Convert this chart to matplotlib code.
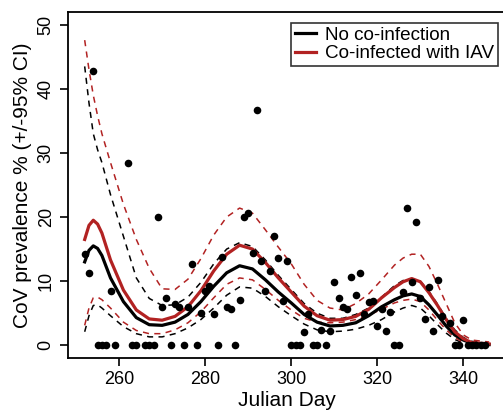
import numpy as np
import matplotlib.pyplot as plt

plt.rcParams['font.family'] = ['Liberation Sans', 'DejaVu Sans']

# observed prevalence per day
obs_day = [252, 253, 254, 258, 262, 269, 270, 271, 273, 274, 276, 277, 279, 280,
           281, 282, 284, 285, 286, 288, 289, 290, 291, 292, 293, 294, 295, 296,
           297, 298, 299, 303, 304, 307, 309, 310, 311, 312, 313, 314, 315, 316,
           317, 318, 319, 320, 321, 322, 323, 326, 327, 328, 329, 330, 331, 332,
           333, 334, 335, 337, 340]
obs_val = [14.3, 11.2, 42.8, 8.4, 28.5, 20.0, 6.0, 7.3, 6.4, 6.0, 6.0, 12.6, 5.0, 8.4,
           9.2, 4.8, 13.7, 6.0, 5.6, 7.0, 20.0, 20.6, 14.4, 36.7, 13.1, 8.4, 11.6, 17.0,
           13.6, 6.9, 13.2, 2.1, 4.8, 2.3, 2.2, 9.8, 7.3, 6.0, 5.6, 10.7, 7.9, 11.2,
           4.9, 6.7, 6.9, 3.0, 5.6, 2.2, 5.2, 8.3, 21.4, 9.9, 19.3, 7.4, 4.1, 9.1,
           2.2, 10.1, 4.6, 3.5, 4.0]
zero_day = [255, 256, 257, 259, 263, 264, 266, 267, 268, 272, 275, 278, 283, 287,
            300, 301, 302, 305, 306, 308, 324, 325, 338, 339, 341, 342, 343, 344, 345]

# fitted curves
fit_day = [252, 253, 254, 255, 256, 258, 261, 264, 267, 270, 273, 276, 279, 282, 285, 288,
           291, 294, 297, 300, 303, 306, 309, 312, 315, 318, 321, 324, 326, 328,
           330, 332, 334, 336, 338, 340, 342, 346]
no_coinf = [13.0, 14.8, 15.5, 15.1, 14.0, 10.5, 6.8, 4.3, 3.2, 3.1, 3.6, 4.8, 6.8, 9.2, 11.3, 12.4,
            11.9, 10.2, 8.3, 6.6, 4.8, 3.6, 3.0, 3.1, 3.5, 4.6, 6.0, 7.1, 7.7, 8.0,
            7.6, 6.3, 4.7, 3.0, 1.6, 0.8, 0.3, 0.1]
no_lo = [2.1, 4.6, 6.2, 6.3, 5.8, 4.6, 2.9, 1.8, 1.3, 1.3, 1.8, 2.7, 4.0, 5.8, 7.8, 9.1,
         8.9, 7.6, 6.0, 4.6, 3.3, 2.4, 2.1, 2.2, 2.5, 3.1, 4.0, 5.2, 5.8, 6.2,
         5.8, 4.6, 3.2, 1.9, 0.9, 0.3, 0.1, 0.0]
no_hi = [43.5, 37.8, 33.0, 30.5, 28.5, 23.5, 17.0, 10.5, 7.3, 6.2, 6.3, 7.5, 9.8, 12.7, 15.0, 16.0,
         15.4, 13.3, 10.9, 8.7, 6.5, 5.0, 4.2, 4.2, 4.8, 5.8, 7.5, 9.3, 10.1, 10.4,
         10.0, 8.4, 6.4, 4.2, 2.4, 1.2, 0.6, 0.3]
iav = [16.5, 18.7, 19.5, 18.9, 17.5, 13.3, 8.6, 5.5, 4.1, 3.9, 4.5, 6.0, 8.5, 11.6, 14.2, 15.6,
       15.0, 12.9, 10.5, 8.3, 6.1, 4.6, 3.9, 4.0, 4.5, 5.6, 7.4, 9.0, 9.9, 10.4,
       9.9, 8.2, 6.2, 4.0, 2.1, 1.0, 0.4, 0.2]
iav_lo = [3.1, 5.8, 7.4, 7.5, 7.1, 5.8, 3.6, 2.3, 1.8, 1.8, 2.4, 3.5, 5.2, 7.4, 9.5, 10.5,
          10.2, 8.7, 7.0, 5.5, 4.2, 3.6, 3.5, 3.6, 4.0, 4.7, 5.6, 6.6, 7.0, 7.2,
          6.8, 5.5, 3.9, 2.4, 1.2, 0.5, 0.2, 0.1]
iav_hi = [47.6, 43.0, 39.0, 35.8, 33.0, 28.5, 22.0, 16.5, 12.0, 8.8, 8.7, 10.3, 13.5, 17.2, 20.0, 21.4,
          20.6, 18.0, 15.3, 12.7, 9.5, 7.0, 5.8, 5.5, 6.5, 8.0, 10.2, 12.5, 13.6, 14.2,
          14.2, 12.3, 9.5, 6.5, 3.5, 1.6, 0.8, 0.5]

red = '#B22222'

fig = plt.figure(figsize=(5.03, 4.12), dpi=100)
# right edge of the box is cut off in the original, so the axes run past the figure
ax = fig.add_axes([0.135, 0.131, 0.87, 0.840])

ax.scatter(obs_day, obs_val, s=30, color='black', zorder=3, linewidths=0)
ax.scatter(zero_day, np.zeros(len(zero_day)), s=30, color='black', zorder=3, linewidths=0)

ax.plot(fit_day, no_lo, color='black', lw=1.1, ls=(0, (4, 3.5)))
ax.plot(fit_day, no_hi, color='black', lw=1.1, ls=(0, (4, 3.5)))
ax.plot(fit_day, iav_lo, color=red, lw=1.1, ls=(0, (4, 3.5)))
ax.plot(fit_day, iav_hi, color=red, lw=1.1, ls=(0, (4, 3.5)))
ax.plot(fit_day, no_coinf, color='black', lw=2.3, label='No co-infection')
ax.plot(fit_day, iav, color=red, lw=2.3, label='Co-infected with IAV')

ax.set_xlim(248.1, 349.8)
ax.set_ylim(-2.0, 52.0)
ax.set_xticks([260, 280, 300, 320, 340])
ax.set_yticks([0, 10, 20, 30, 40, 50])
ax.tick_params(axis='both', direction='out', length=6, width=1.2, labelsize=13)
ax.tick_params(axis='y', labelrotation=90)
for lab in ax.get_yticklabels():
    lab.set_va('center')
for sp in ax.spines.values():
    sp.set_linewidth(1.3)

ax.set_xlabel('Julian Day', fontsize=15, labelpad=2)
ax.set_ylabel('CoV prevalence % (+/-95% CI)', fontsize=15, labelpad=4)

leg = ax.legend(loc='upper right', fontsize=13.6, frameon=True, fancybox=False,
                handlelength=1.1, handletextpad=0.5, borderpad=0.2,
                labelspacing=0.05, borderaxespad=0,
                bbox_to_anchor=(498 / 503, 1 - 23 / 412),
                bbox_transform=fig.transFigure)
leg.get_frame().set_edgecolor('black')
leg.get_frame().set_linewidth(1.2)

fig.savefig('out.png', dpi=100)
